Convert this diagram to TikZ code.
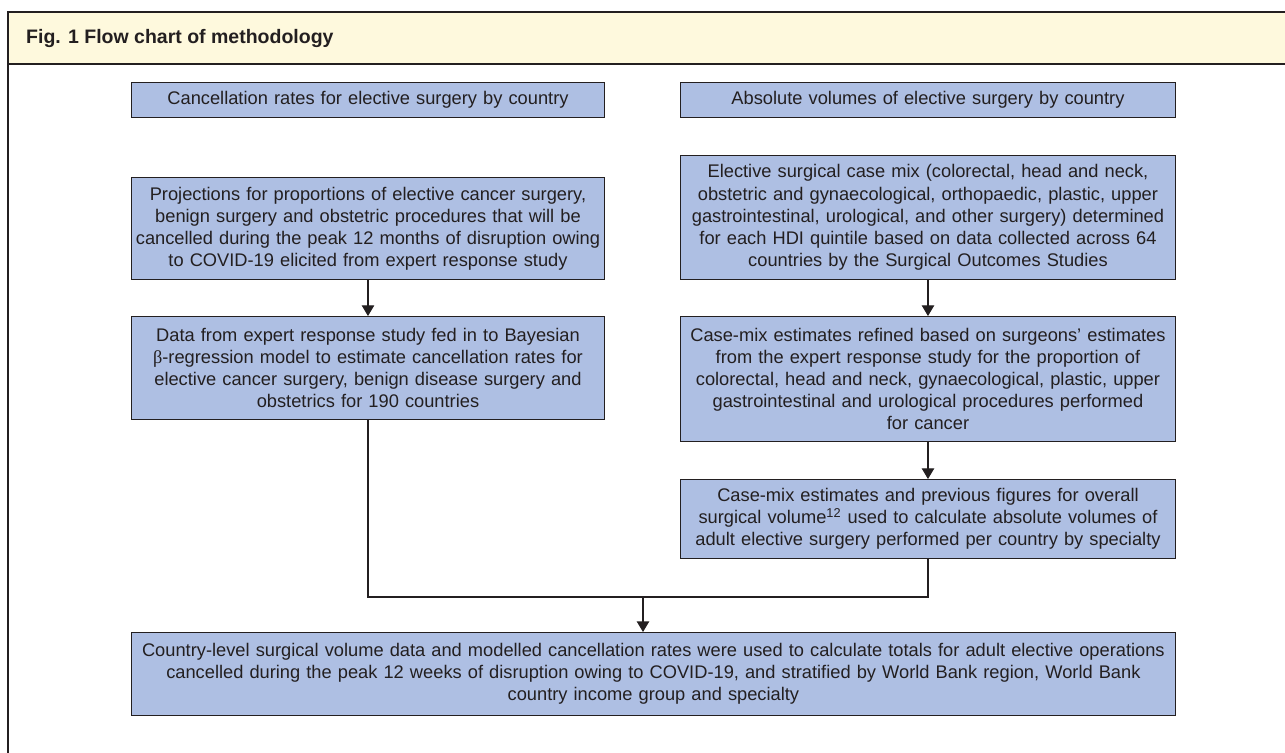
\documentclass[tikz,border=0pt]{standalone}
\usepackage{fontspec}
\setmainfont{Liberation Sans}
\newfontfamily\greekserif{Liberation Serif}
\usetikzlibrary{arrows.meta}
\definecolor{boxblue}{RGB}{174,191,227}
\definecolor{headyellow}{RGB}{254,249,221}
\definecolor{inkgray}{RGB}{35,31,32}

\begin{document}
\begin{tikzpicture}[x=0.02cm, y=-0.02cm, >={Triangle[length=6pt,width=7pt]},
    flowbox/.style={draw=inkgray, fill=boxblue, line width=0.6pt, anchor=north west,
        align=center, inner xsep=0pt, inner ysep=0pt, text=inkgray,
        font=\fontsize{10.4}{12.6}\selectfont},
    leftbox/.style={flowbox, text width=9.46cm},
    rightbox/.style={flowbox, text width=9.9cm},
    link/.style={draw=inkgray, line width=0.6pt}]

        % Page size and frame
        \useasboundingbox (0,0) rectangle (1285,752);
        \clip (0,0) rectangle (1285,752);
        \fill[white] (0,0) rectangle (1285,752);
        \draw[inkgray, line width=0.7pt, fill=headyellow] (1300,12) -- (8,12) -- (8,64) -- (1300,64);
        \draw[inkgray, line width=0.7pt] (8,64) -- (8,770);
        \node[anchor=west, inkgray, font=\fontsize{11.1}{13}\selectfont\bfseries] (title) at (20,38) {Fig. 1 Flow chart of methodology};

        % Left column: cancellation rates
        \node[leftbox, minimum height=0.7cm] (cancel) at (131,82) {Cancellation rates for elective surgery by country};
        \node[leftbox, minimum height=2.04cm] (projections) at (131,177) {Projections for proportions of elective cancer surgery,\\ benign surgery and obstetric procedures that will be\\ cancelled during the peak 12 months of disruption owing\\ to COVID-19 elicited from expert response study};
        \node[leftbox, minimum height=2.06cm] (bayes) at (131,316) {Data from expert response study fed in to Bayesian\\ {\greekserif β}-regression model to estimate cancellation rates for\\ elective cancer surgery, benign disease surgery and\\ obstetrics for 190 countries};

        % Right column: absolute volumes
        \node[rightbox, minimum height=0.7cm] (volume) at (680,82) {Absolute volumes of elective surgery by country};
        \node[rightbox, minimum height=2.48cm] (casemix) at (680,155) {Elective surgical case mix (colorectal, head and neck,\\ obstetric and gynaecological, orthopaedic, plastic, upper\\ gastrointestinal, urological, and other surgery) determined\\ for each HDI quintile based on data collected across 64\\ countries by the Surgical Outcomes Studies};
        \node[rightbox, minimum height=2.5cm] (refined) at (680,316) {Case-mix estimates refined based on surgeons' estimates\\ from the expert response study for the proportion of\\ colorectal, head and neck, gynaecological, plastic, upper\\ gastrointestinal and urological procedures performed\\ for cancer};
        \node[rightbox, minimum height=1.58cm] (absolute) at (680,479) {Case-mix estimates and previous figures for overall\\ surgical volume\textsuperscript{12} used to calculate absolute volumes of\\ adult elective surgery performed per country by specialty};

        % Final box
        \node[flowbox, text width=20.88cm, minimum height=1.66cm] (totals) at (131,632) {Country-level surgical volume data and modelled cancellation rates were used to calculate totals for adult elective operations\\ cancelled during the peak 12 weeks of disruption owing to COVID-19, and stratified by World Bank region, World Bank\\ country income group and specialty};

        % Connectors
        \coordinate (merge) at (643,597);
        \draw[link, ->] (projections) -- (bayes);
        \draw[link, ->] (casemix) -- (refined);
        \draw[link, ->] (refined) -- (absolute);
        \draw[link] (bayes.south) |- (merge);
        \draw[link] (absolute.south) |- (merge);
        \draw[link, ->] (merge) -- (merge |- totals.north);

\end{tikzpicture}
\end{document}
